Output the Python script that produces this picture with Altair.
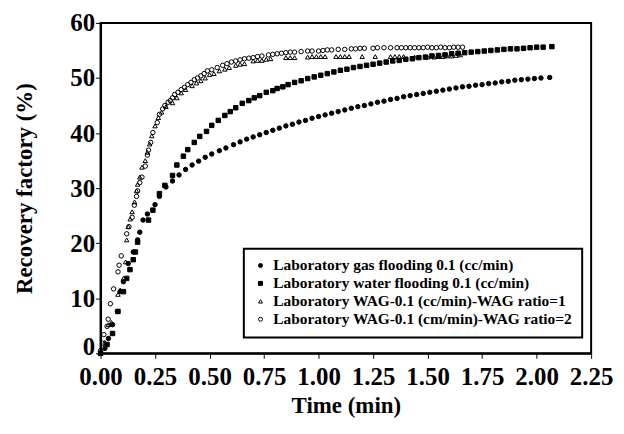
import altair as alt
import pandas as pd

SERIES = [
    "Laboratory gas flooding 0.1 (cc/min)",
    "Laboratory water flooding 0.1 (cc/min)",
    "Laboratory WAG-0.1 (cc/min)-WAG ratio=1",
    "Laboratory WAG-0.1 (cm/min)-WAG ratio=2",
]

gas_x = [0.00, 0.02, 0.036, 0.055, 0.077, 0.09, 0.105, 0.127, 0.15, 0.17, 0.18, 0.195, 0.215, 0.25, 0.27,
         0.30, 0.33, 0.36, 0.39, 0.42, 0.45, 0.48, 0.51, 0.545, 0.575, 0.61, 0.64, 0.67, 0.70, 0.73, 0.76,
         0.79, 0.82, 0.85, 0.88, 0.91, 0.94, 0.97, 1.00, 1.03, 1.06, 1.09, 1.12, 1.15, 1.18, 1.21, 1.24,
         1.27, 1.30, 1.33, 1.36, 1.39, 1.42, 1.45, 1.48, 1.51, 1.54, 1.57, 1.60, 1.63, 1.66, 1.69, 1.72,
         1.75, 1.78, 1.81, 1.84, 1.87, 1.90, 1.93, 1.96, 1.99, 2.02, 2.06]
gas_y = [0.0, 0.9, 2.7, 5.2, 7.6, 11.2, 13.0, 16.3, 18.4, 20.6, 22.0, 24.2, 25.3, 27.0, 28.5,
         30.2, 31.3, 32.4, 33.4, 34.2, 34.9, 35.6, 36.2, 36.8, 37.3, 37.9, 38.4, 38.9, 39.3, 39.7, 40.1,
         40.5, 40.9, 41.3, 41.6, 42.0, 42.3, 42.7, 43.0, 43.3, 43.6, 43.9, 44.2, 44.5, 44.8, 45.0, 45.3,
         45.6, 45.8, 46.1, 46.3, 46.6, 46.8, 47.0, 47.2, 47.4, 47.6, 47.8, 48.0, 48.2, 48.4, 48.5, 48.7,
         48.8, 49.0, 49.1, 49.3, 49.4, 49.6, 49.7, 49.8, 49.9, 50.0, 50.1]

water_x = [0.00, 0.03, 0.055, 0.08, 0.105, 0.12, 0.135, 0.15, 0.16, 0.17, 0.22, 0.24, 0.27, 0.295, 0.33,
           0.35, 0.38, 0.40, 0.43, 0.455, 0.486, 0.51, 0.54, 0.57, 0.595, 0.62, 0.65, 0.68, 0.705, 0.73,
           0.76, 0.79, 0.81, 0.836, 0.86, 0.89, 0.92, 0.95, 0.98, 1.01, 1.04, 1.07, 1.10, 1.13, 1.16, 1.19,
           1.22, 1.25, 1.28, 1.31, 1.34, 1.37, 1.40, 1.43, 1.46, 1.49, 1.52, 1.55, 1.58, 1.61, 1.64, 1.67,
           1.70, 1.73, 1.76, 1.79, 1.82, 1.85, 1.88, 1.91, 1.94, 1.97, 2.00, 2.03, 2.07]
water_y = [0.0, 1.6, 3.6, 7.6, 11.2, 13.6, 15.2, 17.0, 18.4, 20.2, 24.2, 26.0, 29.0, 30.5, 32.3,
           34.2, 35.8, 37.0, 38.3, 39.4, 40.3, 41.4, 42.3, 43.2, 43.9, 44.6, 45.4, 45.9, 46.4, 46.8,
           47.4, 47.7, 48.1, 48.4, 48.8, 49.2, 49.5, 49.9, 50.2, 50.5, 50.8, 51.1, 51.4, 51.6, 51.9, 52.1,
           52.3, 52.5, 52.7, 52.9, 53.1, 53.2, 53.4, 53.5, 53.7, 53.8, 54.0, 54.1, 54.2, 54.4, 54.5, 54.6,
           54.7, 54.8, 54.9, 55.0, 55.1, 55.2, 55.3, 55.3, 55.4, 55.5, 55.6, 55.6, 55.7]

wag1_x = [0.00, 0.02, 0.036, 0.05, 0.08, 0.09, 0.105, 0.115, 0.12, 0.127, 0.136, 0.145, 0.156, 0.165,
          0.17, 0.18, 0.19, 0.205, 0.215, 0.225, 0.235, 0.25, 0.265, 0.28, 0.30, 0.33, 0.35, 0.37, 0.39,
          0.42, 0.44, 0.46, 0.48, 0.50, 0.52, 0.545, 0.57, 0.59, 0.62, 0.64, 0.66, 0.70, 0.72, 0.74, 0.76,
          0.78, 0.85, 0.87, 0.89, 0.95, 0.97, 0.99, 1.01, 1.03, 1.08, 1.10, 1.12, 1.14, 1.20, 1.26, 1.33,
          1.35, 1.37, 1.39, 1.44, 1.50, 1.53, 1.55, 1.57, 1.59, 1.61, 1.63, 1.65]
wag1_y = [0.0, 2.0, 5.2, 5.6, 10.7, 11.5, 13.6, 16.6, 20.6, 23.0, 24.4, 25.7, 27.5, 29.5,
          30.7, 32.0, 33.8, 35.0, 36.5, 38.0, 39.5, 41.3, 42.8, 43.8, 44.8, 45.5, 46.4, 47.3, 47.9,
          48.6, 49.1, 49.5, 50.0, 50.6, 50.8, 51.3, 51.6, 51.9, 52.3, 52.5, 52.6, 53.1, 53.2, 53.2, 53.4,
          53.5, 53.7, 53.7, 53.7, 53.8, 53.9, 53.9, 53.9, 53.9, 53.9, 53.9, 53.9, 53.9, 53.9, 53.9, 53.9,
          53.9, 53.9, 53.9, 53.8, 53.8, 53.8, 53.9, 53.9, 54.0, 54.0, 54.1, 54.2]

wag2_x = [0.00, 0.01, 0.015, 0.03, 0.035, 0.045, 0.06, 0.08, 0.085, 0.095, 0.12, 0.13, 0.145, 0.155,
          0.165, 0.17, 0.18, 0.19, 0.205, 0.215, 0.22, 0.23, 0.24, 0.26, 0.27, 0.285, 0.295, 0.31, 0.32,
          0.33, 0.34, 0.355, 0.37, 0.385, 0.40, 0.415, 0.43, 0.445, 0.46, 0.475, 0.49, 0.51, 0.535, 0.56,
          0.58, 0.60, 0.62, 0.64, 0.66, 0.68, 0.70, 0.72, 0.74, 0.77, 0.79, 0.81, 0.83, 0.85, 0.87, 0.89,
          0.92, 0.95, 0.97, 1.00, 1.02, 1.04, 1.06, 1.09, 1.12, 1.15, 1.17, 1.19, 1.21, 1.25, 1.27, 1.30,
          1.33, 1.36, 1.38, 1.40, 1.42, 1.44, 1.46, 1.48, 1.50, 1.52, 1.54, 1.56, 1.58, 1.60, 1.62, 1.64,
          1.66]
wag2_y = [0.5, 1.8, 3.4, 4.9, 6.2, 9.0, 11.7, 14.8, 16.0, 17.7, 21.7, 23.0, 24.7, 26.9,
          28.5, 29.5, 31.0, 32.0, 34.0, 36.0, 36.9, 38.3, 40.1, 41.9, 43.4, 44.4, 45.0, 45.6, 45.9,
          46.4, 47.0, 47.4, 47.9, 48.3, 48.8, 49.2, 49.7, 50.0, 50.4, 50.8, 51.3, 51.5, 51.9, 52.3,
          52.6, 52.9, 53.1, 53.3, 53.5, 53.6, 53.7, 53.9, 54.0, 54.2, 54.3, 54.4, 54.5, 54.6, 54.7, 54.7,
          54.8, 54.9, 54.9, 54.9, 55.0, 55.1, 55.1, 55.2, 55.2, 55.3, 55.3, 55.4, 55.4, 55.4, 55.5, 55.5,
          55.5, 55.5, 55.5, 55.5, 55.5, 55.5, 55.5, 55.5, 55.6, 55.5, 55.5, 55.6, 55.5, 55.5, 55.6, 55.6,
          55.6]

x_ticks = [0.0, 0.25, 0.5, 0.75, 1.0, 1.25, 1.5, 1.75, 2.0, 2.25]
y_ticks = [0, 10, 20, 30, 40, 50, 60]

frames = []
for name, xs, ys in zip(SERIES, [gas_x, water_x, wag1_x, wag2_x], [gas_y, water_y, wag1_y, wag2_y]):
    frames.append(pd.DataFrame({"time": xs, "rf": ys, "series": name}))
df = pd.concat(frames, ignore_index=True)

FONT = "Liberation Serif"

chart = alt.Chart(df).mark_point(
    strokeWidth=1, size=20, opacity=1, filled=False
).encode(
    x=alt.X("time:Q", title="Time (min)",
            scale=alt.Scale(domain=[0, 2.25], nice=False, zero=True),
            axis=alt.Axis(values=x_ticks, format=".2f", grid=False, labelFlush=False,
                          labelOverlap=False)),
    y=alt.Y("rf:Q", title="Recovery factory (%)",
            scale=alt.Scale(domain=[0, 60], nice=False),
            axis=alt.Axis(values=y_ticks, format="d", grid=False, labelFlush=False,
                          labelOverlap=False,
                          labelOffset=alt.ExprRef(expr="datum.value == 0 ? -7 : 0"))),
    shape=alt.Shape("series:N", sort=SERIES, title=None,
                    scale=alt.Scale(domain=SERIES, range=["circle", "square", "triangle-up", "circle"])),
    fill=alt.Fill("series:N", sort=SERIES, title=None,
                  scale=alt.Scale(domain=SERIES, range=["black", "black", "transparent", "transparent"])),
    stroke=alt.Stroke("series:N", sort=SERIES, title=None,
                      scale=alt.Scale(domain=SERIES, range=["black", "black", "black", "black"])),
).properties(
    width=493, height=332,
    padding={"left": 6, "top": 2, "right": 3, "bottom": 3},
).configure_view(
    stroke="black", strokeWidth=2
).configure_axis(
    labelFont=FONT, titleFont=FONT, labelFontSize=25, titleFontSize=23,
    labelFontWeight="bold", titleFontWeight="bold", labelColor="black", titleColor="black",
    domainColor="black", domainWidth=2, tickColor="black", tickSize=5, tickWidth=1,
    labelPadding=1,
).configure_axisY(
    titlePadding=33,
).configure_axisX(
    titlePadding=5, labelPadding=6,
).configure_legend(
    orient="none", legendX=144, legendY=227,
    labelFont=FONT, labelFontSize=15.5, labelFontWeight="bold", labelColor="black",
    strokeColor="black", strokeWidth=2, padding=9, rowPadding=1,
    symbolSize=16, symbolStrokeWidth=1,
    labelOffset=5, labelLimit=400,
)

chart.save("out.html", embed_options={"renderer": "svg", "actions": False})
